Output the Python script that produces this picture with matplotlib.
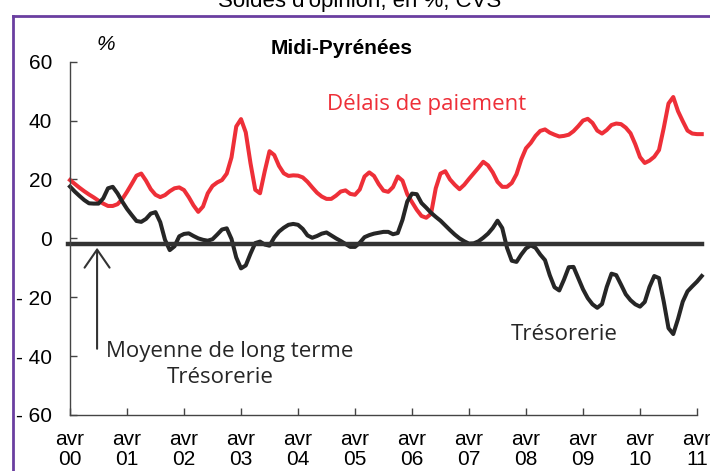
import numpy as np
import matplotlib
matplotlib.use('Agg')
import matplotlib.pyplot as plt
from matplotlib.lines import Line2D

# Monthly series, avril 2000 -> mai 2011 (soldes d'opinion, %, CVS)
delais = [19.8, 18.5, 17.2, 16.0, 14.9, 13.9, 12.8, 11.8, 11.0, 11.0, 11.6, 13.3,
          15.8, 18.5, 21.3, 22.0, 19.6, 16.7, 14.8, 14.0, 14.7, 16.0, 17.0, 17.3,
          16.4, 14.0, 11.2, 9.0, 10.8, 15.3, 17.8, 19.0, 19.8, 22.0, 27.5, 38.0,
          40.5, 36.0, 25.5, 16.5, 15.3, 22.8, 29.6, 28.3, 24.6, 22.1, 21.2, 21.4,
          21.3, 20.7, 19.2, 17.3, 15.5, 14.2, 13.4, 13.4, 14.5, 15.9, 16.3, 15.1,
          14.8, 16.6, 21.0, 22.4, 21.2, 18.4, 16.2, 15.8, 17.4, 21.0, 19.6, 15.0,
          12.3, 9.7, 7.6, 7.0, 8.3, 17.0, 22.0, 22.8, 20.0, 18.2, 16.7, 18.2,
          20.2, 22.1, 24.0, 26.0, 24.8, 22.4, 19.2, 17.5, 17.5, 18.8, 21.8, 26.8,
          30.6, 32.4, 34.8, 36.5, 37.0, 35.9, 35.2, 34.6, 34.8, 35.2, 36.4, 38.1,
          40.0, 40.6, 39.2, 36.6, 35.6, 36.8, 38.5, 39.0, 38.8, 37.6, 35.7, 32.0,
          27.6, 25.6, 26.4, 27.7, 30.0, 37.5, 45.8, 48.0, 43.2, 39.8, 36.6, 35.6,
          35.4, 35.4]

tresorerie = [17.6, 15.9, 14.4, 13.0, 11.9, 11.8, 11.8, 13.6, 17.0, 17.5, 15.3, 12.5,
              10.0, 7.9, 5.9, 5.6, 6.6, 8.4, 8.9, 5.5, -0.5, -4.0, -2.7, 0.7,
              1.5, 1.7, 0.8, 0.0, -0.5, -0.8, -0.3, 1.3, 3.0, 3.4, -0.2, -6.5,
              -10.2, -9.2, -5.2, -1.6, -1.1, -2.1, -2.5, 0.3, 2.3, 3.6, 4.6, 4.9,
              4.6, 3.2, 1.0, 0.2, 0.8, 1.6, 2.0, 1.0, 0.0, -0.9, -1.9, -2.9,
              -2.9, -1.5, 0.4, 1.1, 1.6, 1.9, 2.2, 2.2, 1.4, 1.8, 6.3, 12.5,
              15.2, 15.0, 12.0, 10.4, 8.7, 7.3, 6.0, 4.4, 2.8, 1.3, 0.0, -1.0,
              -1.8, -1.7, -1.0, 0.2, 1.6, 3.5, 6.0, 3.5, -3.2, -7.6, -8.0, -5.5,
              -3.4, -2.4, -3.2, -5.5, -7.4, -12.5, -16.6, -17.7, -14.0, -9.8, -9.7, -13.5,
              -17.3, -20.3, -22.4, -23.6, -22.3, -16.5, -12.0, -12.5, -15.7, -19.0, -21.0, -22.4,
              -23.2, -21.6, -16.5, -12.8, -13.5, -21.5, -30.5, -32.5, -27.4, -21.5, -18.0, -16.3,
              -14.7, -12.8]

moyenne_lt = -2
years = ['00', '01', '02', '03', '04', '05', '06', '07', '08', '09', '10', '11']
yticks = [60, 40, 20, 0, -20, -40, -60]
ylabels = ['60', '40', '20', '0', '- 20', '- 40', '- 60']

narrow = ['Liberation Sans', 'DejaVu Sans']
humanist = ['Open Sans', 'DejaVu Sans']

fig = plt.figure(figsize=(7.1, 4.71), dpi=100)
ax = fig.add_axes([70 / 710, 1 - 415 / 471, (697 - 70) / 710, (415 - 61.7) / 471])

months = np.arange(len(delais))
ax.plot(months, delais, color='#ee2f38', lw=2.9, clip_on=False)
ax.plot(months, tresorerie, color='#262626', lw=2.9, clip_on=False)
ax.plot([-0.5, 133], [moyenne_lt, moyenne_lt], color='#333333', lw=3.2, clip_on=False)

ax.set_xlim(0, 132)
ax.set_ylim(-60, 60)
ax.set_xticks(np.arange(0, 133, 12))
ax.set_xticklabels(['avr\n' + y for y in years], fontfamily=narrow, fontsize=15,
                   linespacing=1.05)
ax.set_yticks(yticks)
ax.set_yticklabels(ylabels, fontfamily=narrow, fontsize=15)
ax.tick_params(axis='both', direction='in', length=5, width=1, color='#444444')
ax.tick_params(axis='y', pad=13)
ax.tick_params(axis='x', pad=11)
for s in ['top', 'right']:
    ax.spines[s].set_visible(False)
for s in ['left', 'bottom']:
    ax.spines[s].set_color('#444444')
    ax.spines[s].set_linewidth(1)

# arrow to long-term mean
ax.annotate('', xy=(5.7, -3.2), xytext=(5.7, -37.5),
            arrowprops=dict(arrowstyle='->,head_length=0.65,head_width=0.45',
                            mutation_scale=20, color='#333333', lw=1.5,
                            shrinkA=0, shrinkB=0))

ax.text(75, 45.3, 'Délais de paiement', color='#ee2f38', fontsize=16,
        fontfamily=humanist, ha='center', va='center')
ax.text(104, -32.8, 'Trésorerie', color='#262626', fontsize=16,
        fontfamily=humanist, ha='center', va='center')
ax.text(33.7, -38.6, 'Moyenne de long terme', color='#262626', fontsize=16,
        fontfamily=humanist, ha='center', va='center')
ax.text(31.6, -47.4, 'Trésorerie', color='#262626', fontsize=16,
        fontfamily=humanist, ha='center', va='center')

fig.text(342 / 710, 1 - 48 / 471, 'Midi-Pyrénées', fontsize=15, fontweight='bold',
         fontfamily=narrow, ha='center', va='center')
fig.text(106 / 710, 1 - 45 / 471, '%', fontsize=15, fontstyle='italic',
         fontfamily=narrow, ha='center', va='center')
fig.text(360 / 710, 1 - 1 / 471, "Soldes d'opinion, en %, CVS", fontsize=16,
         fontfamily=narrow, ha='center', va='center')

# purple frame
fig.add_artist(Line2D([13 / 710, 13 / 710], [0, 1 - 16 / 471], color='#6a3fa0', lw=2,
                      transform=fig.transFigure))
fig.add_artist(Line2D([13 / 710, 1], [1 - 16 / 471, 1 - 16 / 471], color='#6a3fa0', lw=2,
                      transform=fig.transFigure))

fig.savefig('out.png', dpi=100)
